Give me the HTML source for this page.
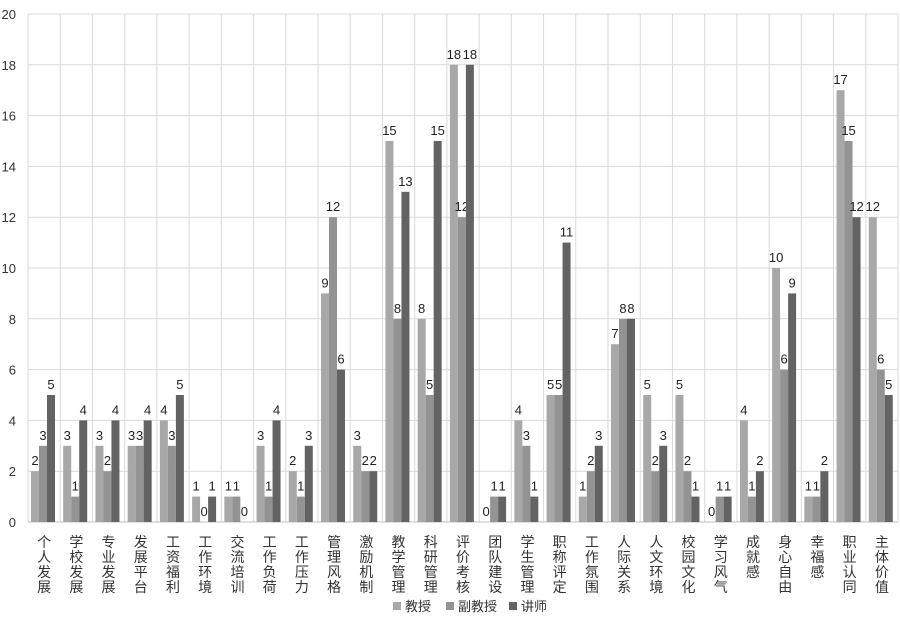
<!DOCTYPE html>
<html><head><meta charset="utf-8"><style>
body{margin:0;background:#fff;width:900px;height:618px;overflow:hidden}
svg text{font-family:"Liberation Sans","Noto Sans CJK SC",sans-serif}
</style></head><body>
<svg id="c" width="900" height="618" xmlns="http://www.w3.org/2000/svg"></svg>
<script>
const categories=["个人发展","学校发展","专业发展","发展平台","工资福利","工作环境","交流培训","工作负荷","工作压力","管理风格","激励机制","教学管理","科研管理","评价考核","团队建设","学生管理","职称评定","工作氛围","人际关系","人文环境","校园文化","学习风气","成就感","身心自由","幸福感","职业认同","主体价值"];
const seriesNames=["教授","副教授","讲师"];
const professor=[2,3,3,3,4,1,1,3,2,9,3,15,8,18,0,4,5,1,7,5,5,0,4,10,1,17,12];
const assocProfessor=[3,1,2,3,3,0,1,1,1,12,2,8,5,12,1,3,5,2,8,2,2,1,1,6,1,15,6];
const lecturer=[5,4,4,4,5,1,0,4,3,6,2,13,15,18,1,1,11,3,8,3,1,1,2,9,2,12,5];
const yTicks=[0,2,4,6,8,10,12,14,16,18,20];
const series=[professor,assocProfessor,lecturer];
const colors=["#a8a8a8","#939393","#636363"];
const svg=document.getElementById('c');
const NS="http://www.w3.org/2000/svg";
const L=28,R=898,T=14,B=522,YMAX=20;
const cw=(R-L)/categories.length;
const y=v=>B-(v/YMAX)*(B-T);
const xc=i=>L+i*cw;
function el(t,a,p){const e=document.createElementNS(NS,t);for(const k in a)e.setAttribute(k,a[k]);(p||svg).appendChild(e);return e;}
const grid=el('g',{});


yTicks.forEach(v=>{
  el('line',{x1:L,x2:R,y1:y(v),y2:y(v),stroke:'#d9d9d9','stroke-width':1},grid);
  const t=el('text',{x:L-12,y:y(v)+5,'text-anchor':'end','font-size':13,fill:'#333'});
  t.textContent=v;
  
  
});
for(let i=0;i<=categories.length;i++){el('line',{x1:xc(i),x2:xc(i),y1:T,y2:B,stroke:'#d9d9d9','stroke-width':1},grid);}
el('line',{x1:L,x2:R,y1:B,y2:B,stroke:'#bfbfbf','stroke-width':1});
const bw=8,off=3;
categories.forEach((c,i)=>{
  series.forEach((s,j)=>{
    const v=s[i],x=xc(i)+off+j*bw;
    const r=el('rect',{x:x,y:y(v),width:bw,height:B-y(v),fill:colors[j]});
    
    
    const t=el('text',{x:x+bw/2,y:y(v)-6,'text-anchor':'middle','font-size':13,fill:'#222'});
    t.textContent=v;
    
    
  });
  const g=el('text',{'font-size':14,fill:'#333','text-anchor':'middle'});
  
  
  [...c].forEach((ch,k)=>{const ts=el('tspan',{x:xc(i)+cw/2,y:547+k*15},g);ts.textContent=ch;});
});
const legend=el('g',{});


const lx=[393,446,509];
seriesNames.forEach((n,j)=>{
  el('rect',{x:lx[j],y:602,width:8,height:8,fill:colors[j]},legend);
  const t=el('text',{x:lx[j]+12,y:611,'font-size':13,fill:'#333'},legend);
  t.textContent=n;
  
  
});
</script>
</body></html>
